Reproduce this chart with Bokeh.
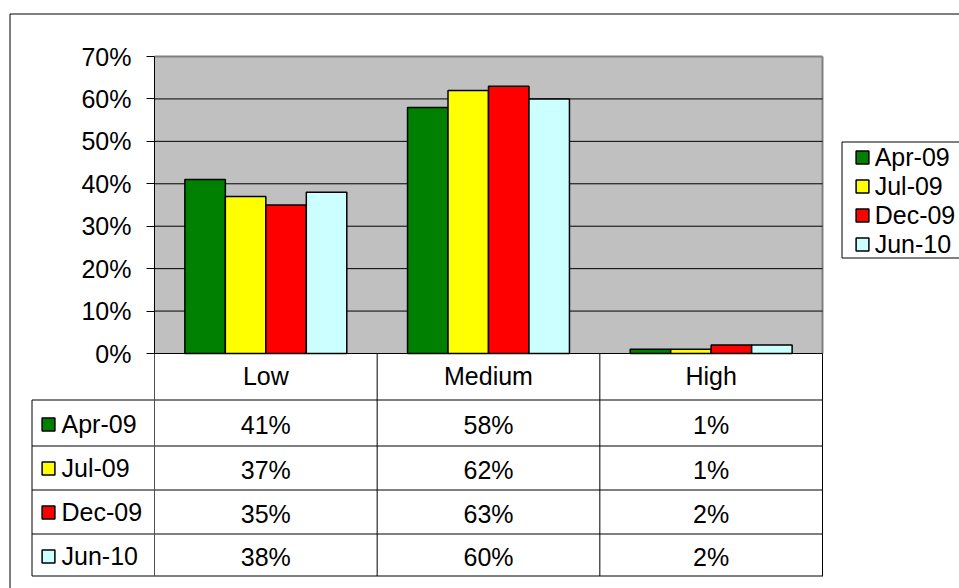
from bokeh.plotting import figure
from bokeh.models import (ColumnDataSource, Range1d, Legend, LegendItem, FixedTicker,
                          PrintfTickFormatter)
from bokeh.transform import dodge
from bokeh.core.properties import value
from bokeh.embed import file_html
from bokeh.resources import INLINE

# ---------------- data ----------------
categories = ["Low", "Medium", "High"]
series_names = ["Apr-09", "Jul-09", "Dec-09", "Jun-10"]
apr09 = [41, 58, 1]
jul09 = [37, 62, 1]
dec09 = [35, 63, 2]
jun10 = [38, 60, 2]
y_ticks = [0, 10, 20, 30, 40, 50, 60, 70]
colors = ["#008000", "#FFFF00", "#FF0000", "#CCFFFF"]

series_values = [apr09, jul09, dec09, jun10]
keys = ["apr09", "jul09", "dec09", "jun10"]

FONT = "Liberation Sans"
FS = "25px"

# ---------------- layout (pixels) ----------------
W, H = 959, 588
PLOT_L, PLOT_R, PLOT_T, PLOT_B = 154, 822, 56, 353
n_cat = len(categories)
ymax = y_ticks[-1]
cat_px = (PLOT_R - PLOT_L) / n_cat
px_per_unit = (PLOT_B - PLOT_T) / ymax

p = figure(width=W, height=H,
           x_range=Range1d(-PLOT_L / cat_px, (W - PLOT_L) / cat_px),
           y_range=Range1d(-(H - PLOT_B) / px_per_unit, ymax + PLOT_T / px_per_unit),
           output_backend="svg", toolbar_location=None, title=None, min_border=0,
           background_fill_color="white", border_fill_color="white")
p.outline_line_color = None
p.extra_x_ranges = {"px": Range1d(0, W)}
p.extra_y_ranges = {"px": Range1d(H, 0)}
p.xgrid.visible = False
p.ygrid.visible = False

# plot area
p.quad(left=0, right=n_cat, bottom=0, top=ymax, fill_color="#C0C0C0", line_color=None)
p.segment(x0=[0, n_cat], y0=[ymax, ymax], x1=[n_cat, n_cat], y1=[ymax, 0],
          line_color="#808080", line_width=2)
grid_vals = y_ticks[1:-1]
p.segment(x0=[0] * len(grid_vals), x1=[n_cat] * len(grid_vals), y0=grid_vals, y1=grid_vals,
          line_color="black", line_width=1)

cat_pos = [i + 0.5 for i in range(n_cat)]
src = ColumnDataSource(dict(pos=cat_pos, cat=categories,
                            **{k: v for k, v in zip(keys, series_values)}))

bar_w = 0.1818
renderers = []
for k, (key, col) in enumerate(zip(keys, colors)):
    r = p.vbar(x=dodge("pos", (k - 1.5) * bar_w), top=key, width=bar_w,
               source=src, fill_color=col, line_color="black", line_width=1.5)
    renderers.append(r)

# y axis
yax = p.yaxis[0]
yax.fixed_location = 0
yax.bounds = (0, ymax)
yax.ticker = FixedTicker(ticks=y_ticks)
yax.formatter = PrintfTickFormatter(format="%d%%")
yax.major_tick_in = 0
yax.major_tick_out = 8
yax.minor_tick_line_color = None
yax.axis_line_color = "black"
yax.major_tick_line_color = "black"
yax.major_label_standoff = 15
yax.major_label_text_font = FONT
yax.major_label_text_font_size = FS
yax.major_label_text_color = "black"

# x axis -> header row of the data table
xax = p.xaxis[0]
xax.fixed_location = 0
xax.bounds = (0, n_cat)
xax.ticker = FixedTicker(ticks=cat_pos)
xax.major_label_overrides = {pos: c for pos, c in zip(cat_pos, categories)}
xax.major_tick_line_color = None
xax.major_tick_in = 0
xax.major_tick_out = 0
xax.minor_tick_line_color = None
xax.axis_line_color = "black"
xax.major_label_standoff = 8
xax.major_label_text_font = FONT
xax.major_label_text_font_size = FS
xax.major_label_text_color = "black"

# ---------------- data table below the chart ----------------
row_lines = [399.5, 445.5, 489.5, 533.5, 575.5]
table_left = 31.5


def px_seg(x0, y0, x1, y1, color="black", w=1):
    p.segment(x0=[x0], y0=[y0], x1=[x1], y1=[y1], line_color=color, line_width=w,
              x_range_name="px", y_range_name="px")


for yy in row_lines:
    px_seg(table_left, yy, PLOT_R + 0.5, yy)
px_seg(table_left, row_lines[0], table_left, row_lines[-1])
# column separators (category boundaries, in data units along x)
p.segment(x0=list(range(n_cat + 1)), x1=list(range(n_cat + 1)),
          y0=[PLOT_B] * (n_cat + 1), y1=[row_lines[-1]] * (n_cat + 1),
          line_color=["#505050"] + ["black"] * n_cat, line_width=1, y_range_name="px")

# outer chart border
px_seg(9.5, 13.5, W + 10, 13.5)
px_seg(9.5, 13.5, 9.5, H + 10)

row_centers = [(a + b) / 2 + 2 for a, b in zip(row_lines[:-1], row_lines[1:])]
tx, ty, tt = [], [], []
for k, vals in enumerate(series_values):
    for j in range(n_cat):
        tx.append(cat_pos[j])
        ty.append(row_centers[k])
        tt.append(f"{vals[j]}%")
p.text(x=tx, y=ty, text=tt, y_range_name="px", text_align="center", text_baseline="middle",
       text_font=value(FONT), text_font_size=value(FS), text_color="black")

# table legend keys
tbl_legend = Legend(items=[LegendItem(label=s, renderers=[r]) for s, r in zip(series_names, renderers)],
                    location=(39.5, H - 578), orientation="vertical",
                    glyph_width=16, glyph_height=16, label_standoff=6, label_height=44,
                    spacing=0, padding=0, margin=0, border_line_color=None,
                    background_fill_alpha=0, label_text_font=FONT, label_text_font_size=FS,
                    label_text_color="black")
p.add_layout(tbl_legend, "center")

# ---------------- legend at right ----------------
p.quad(left=[841.5], right=[W + 20], top=[141.5], bottom=[257.5], fill_color="white",
       line_color="black", line_width=1, x_range_name="px", y_range_name="px")
legend = Legend(items=[LegendItem(label=s, renderers=[r]) for s, r in zip(series_names, renderers)],
                location=(853.7, H - 258.5), orientation="vertical",
                glyph_width=16, glyph_height=16, label_standoff=5, label_height=28,
                spacing=0, padding=0, margin=0, border_line_color=None,
                background_fill_alpha=0, label_text_font=FONT, label_text_font_size=FS,
                label_text_color="black")
p.add_layout(legend, "center")

open("out.html", "w").write(file_html(p, INLINE))
